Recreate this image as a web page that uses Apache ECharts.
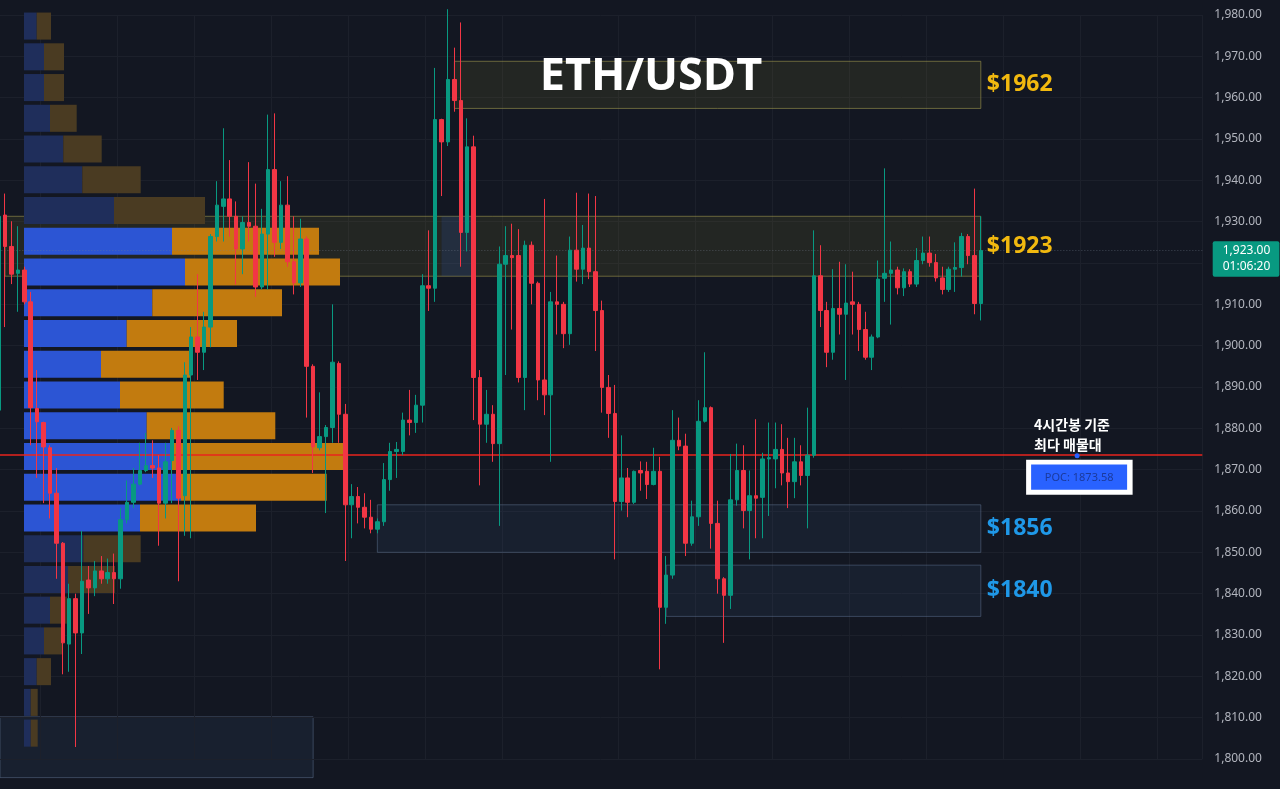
<!DOCTYPE html>
<html><head><meta charset="utf-8">
<script src="https://cdn.jsdelivr.net/npm/echarts@6/dist/echarts.min.js"></script>
<style>html,body{margin:0;padding:0;background:#131722;overflow:hidden}#c{width:1280px;height:789px}</style>
</head><body><div id="c"></div>
<script>
// ---- candle data (4h ETH/USDT) ----
const opens = [1884.4,1931.6,1924.0,1917.5,1918.3,1910.6,1884.8,1881.4,1875.3,1864.3,1852.2,1827.8,1838.8,1830.5,1843.3,1841.4,1845.5,1843.6,1845.1,1843.6,1857.9,1862.1,1866.5,1869.8,1871.0,1870.4,1861.9,1872.2,1879.5,1863.7,1892.9,1902.1,1898.4,1904.5,1926.4,1933.7,1935.5,1931.3,1923.4,1929.8,1928.9,1914.2,1927.0,1942.6,1925.0,1934.0,1920.3,1915.2,1925.8,1895.0,1875.3,1878.0,1880.2,1895.7,1883.4,1861.5,1863.5,1860.9,1858.5,1855.6,1857.4,1867.6,1874.4,1874.4,1882.0,1881.4,1885.6,1914.5,1913.9,1954.7,1949.3,1964.4,1959.3,1927.4,1948.1,1892.3,1881.0,1883.4,1876.3,1919.7,1921.8,1921.8,1892.3,1924.3,1915.1,1891.7,1888.1,1910.6,1910.0,1902.9,1923.1,1918.5,1923.6,1917.9,1908.5,1889.9,1883.6,1862.3,1868.0,1862.1,1869.8,1869.6,1866.4,1869.6,1836.7,1844.5,1877.1,1875.7,1852.2,1858.6,1881.7,1885.0,1857.0,1843.6,1839.6,1862.7,1869.8,1860.1,1863.7,1863.3,1872.6,1872.6,1874.9,1869.2,1867.1,1871.9,1868.6,1873.5,1916.9,1908.5,1898.4,1909.0,1907.6,1910.6,1910.0,1903.9,1897.2,1902.1,1916.3,1917.5,1918.3,1914.0,1917.9,1914.9,1920.6,1922.4,1920.1,1916.4,1913.6,1918.5,1918.9,1926.4,1921.8,1910.2];
const closes = [1931.3,1924.0,1917.3,1918.3,1910.6,1885.0,1881.6,1875.5,1864.3,1852.2,1828.1,1838.8,1830.5,1843.0,1841.4,1845.5,1843.6,1845.1,1843.6,1857.9,1862.1,1866.5,1869.8,1871.0,1870.4,1861.9,1871.9,1879.5,1863.1,1892.9,1902.1,1898.4,1904.5,1926.4,1934.0,1935.5,1931.3,1923.4,1929.8,1928.9,1914.2,1927.0,1942.6,1925.0,1934.0,1920.3,1915.2,1925.8,1895.0,1875.5,1878.0,1880.2,1896.0,1883.4,1861.5,1863.5,1860.9,1858.5,1855.6,1857.4,1867.6,1874.4,1874.9,1882.0,1881.4,1885.6,1914.5,1913.9,1954.7,1949.3,1964.4,1959.3,1927.4,1948.1,1892.3,1881.0,1883.4,1876.3,1919.7,1921.8,1921.3,1892.3,1924.3,1915.1,1891.7,1888.1,1910.6,1910.0,1902.9,1923.1,1918.5,1923.6,1917.9,1908.5,1889.9,1883.6,1862.3,1868.0,1862.1,1869.6,1869.2,1866.4,1869.6,1836.7,1844.5,1877.1,1875.7,1852.2,1858.6,1881.7,1885.0,1857.0,1843.6,1839.6,1862.7,1869.8,1860.1,1863.7,1863.1,1872.6,1872.9,1874.9,1869.2,1867.1,1871.9,1868.6,1873.5,1916.9,1908.5,1898.4,1909.0,1907.6,1910.3,1910.0,1903.9,1897.2,1902.1,1916.1,1917.5,1918.3,1914.0,1917.9,1914.9,1920.6,1922.4,1920.1,1916.4,1913.6,1918.5,1918.9,1926.4,1921.8,1910.2,1923.0];
const lows = [1882.0,1904.5,1914.9,1908.2,1910.0,1875.9,1868.0,1861.9,1858.2,1843.6,1820.5,1821.1,1802.9,1825.4,1835.1,1839.4,1842.4,1842.4,1837.5,1841.2,1857.0,1860.7,1866.2,1869.4,1868.0,1851.6,1858.2,1861.9,1843.0,1854.0,1853.4,1891.7,1894.1,1899.6,1925.2,1925.2,1926.4,1914.8,1917.3,1925.2,1911.8,1913.6,1913.6,1921.5,1923.4,1919.1,1912.4,1914.2,1882.6,1869.2,1874.7,1859.5,1876.5,1876.5,1847.9,1853.4,1857.0,1855.8,1854.6,1854.6,1856.4,1864.9,1868.0,1873.5,1878.3,1878.9,1881.4,1908.4,1910.6,1936.2,1948.3,1956.6,1919.1,1922.8,1882.0,1866.2,1876.5,1871.9,1856.4,1892.9,1903.9,1891.1,1884.4,1910.0,1886.8,1883.2,1871.9,1902.7,1899.4,1900.2,1915.5,1914.9,1916.1,1898.7,1883.8,1877.7,1848.3,1860.1,1858.5,1861.7,1864.9,1862.9,1866.2,1821.7,1832.7,1843.6,1874.7,1849.1,1851.6,1856.4,1881.4,1850.9,1840.0,1828.1,1836.3,1861.3,1855.8,1848.3,1853.4,1853.4,1858.8,1865.5,1866.2,1860.7,1863.1,1866.2,1855.8,1872.9,1904.5,1894.8,1896.6,1902.7,1891.7,1902.7,1898.7,1896.6,1894.1,1901.8,1910.6,1905.1,1912.4,1912.0,1914.2,1914.2,1919.7,1919.1,1915.5,1912.4,1913.0,1913.0,1916.7,1919.7,1907.6,1906.1];
const highs = [1933.0,1936.8,1930.1,1928.9,1919.1,1913.0,1894.1,1881.6,1875.9,1870.4,1852.5,1842.4,1840.0,1855.2,1846.7,1847.9,1849.1,1848.5,1849.7,1860.7,1867.4,1870.4,1876.5,1878.9,1877.1,1873.5,1876.5,1880.1,1880.5,1896.0,1904.5,1917.3,1908.2,1927.0,1939.8,1952.6,1944.9,1934.9,1931.3,1944.4,1939.2,1933.1,1955.9,1956.2,1939.8,1941.0,1931.3,1930.7,1926.4,1895.5,1888.7,1880.8,1910.0,1896.2,1885.9,1866.5,1865.8,1864.3,1862.7,1858.2,1871.6,1876.5,1876.7,1883.8,1889.3,1888.1,1917.3,1927.9,1967.2,1954.9,1981.4,1972.1,1978.2,1955.0,1950.8,1894.1,1889.3,1885.6,1924.0,1928.9,1929.5,1928.2,1925.4,1925.2,1915.5,1935.5,1913.0,1921.8,1910.6,1926.4,1937.0,1929.2,1936.8,1936.2,1910.9,1892.9,1890.5,1878.3,1870.4,1869.8,1872.0,1871.9,1875.3,1873.1,1849.1,1884.4,1882.6,1878.7,1862.5,1886.8,1898.4,1885.3,1862.5,1844.0,1873.8,1876.3,1875.9,1869.8,1882.2,1874.1,1881.4,1881.4,1881.0,1877.7,1877.7,1875.9,1885.0,1927.9,1924.3,1910.6,1918.5,1920.3,1919.7,1917.9,1910.6,1908.2,1902.7,1920.6,1942.9,1925.2,1919.1,1918.7,1918.5,1923.6,1926.4,1926.4,1922.2,1919.1,1919.1,1925.0,1927.3,1927.0,1938.0,1931.3];
const slotCount = 188; // candle slots incl. empty space on the right
const yTicks = {min: 1800, max: 1980, step: 10};

// ---- volume profile (top row = highest price), arbitrary units ----
const profileBuy  = [12.7,20,20,26,39.3,58.3,90,148,161,128.3,102.7,77,96,122.7,148,157,116,59.3,44,26,20,12.7,6.7,6.7];
const profileSell = [14.3,20,20,26.7,38.4,58.4,91,147,155,129.7,110.3,89,103.7,128.6,172,145.7,116,57.4,47,16.7,19,14.3,7,7];
const valueAreaRows = [7,8,9,10,11,12,13,14,15,16];

// ---- zones / levels ----
const resistanceZones = [ {from: 71, to: 153, lo: 1957.4, hi: 1968.8, label: '$1962'},
                          {from: 1,  to: 153, lo: 1916.8, hi: 1931.3, label: '$1923'} ];
const supportZones    = [ {from: 59, to: 153, lo: 1850.0, hi: 1861.5, label: '$1856'},
                          {from: 104, to: 153, lo: 1834.5, hi: 1846.9, label: '$1840'} ];
const lowerZone = {from: 0, to: 49, lo: 1795.5, hi: 1810.2};
const overlayZone = {from: 68.5, to: 74.3, lo: 1916.8, hi: 1931.3};
const pocValue = 1873.58;
const lastPrice = 1923.00;
const countdown = '01:06:20';
const vGridIdx = [7,19,31,43,55,67,79,97,109,121,133,145,157,169,181];

const categories = [];
for (let i = 0; i < slotCount; i++) categories.push('c' + i);
const candleData = opens.map((o, i) => [o, closes[i], lows[i], highs[i]]);

const UP = '#089981', DOWN = '#f23645';
const fmt = v => v.toLocaleString('en-US', {minimumFractionDigits: 2, maximumFractionDigits: 2});

const chart = echarts.init(document.getElementById('c'), null, {renderer: 'canvas'});

const areaData = [];
resistanceZones.forEach(z => areaData.push([
  {xAxis: z.from, yAxis: z.hi, itemStyle: {color: 'rgba(125,120,45,0.16)', borderColor: 'rgba(170,160,80,0.55)', borderWidth: 1}},
  {xAxis: z.to, yAxis: z.lo}]));
supportZones.forEach(z => areaData.push([
  {xAxis: z.from, yAxis: z.hi, itemStyle: {color: 'rgba(55,80,120,0.16)', borderColor: 'rgba(95,115,145,0.5)', borderWidth: 1}},
  {xAxis: z.to, yAxis: z.lo}]));
areaData.push([{xAxis: overlayZone.from, yAxis: overlayZone.hi, itemStyle: {color: 'rgba(41,98,255,0.13)', borderWidth: 0}},
               {xAxis: overlayZone.to, yAxis: overlayZone.lo}]);

const vaSet = new Set(valueAreaRows);
const buyData = profileBuy.map((v, i) => ({value: v, itemStyle: {color: vaSet.has(i) ? '#2c55d4' : '#1f2e5b'}}));
const sellData = profileSell.map((v, i) => ({value: v, itemStyle: {color: vaSet.has(i) ? '#c27b0f' : '#4a3b22'}}));
const rows = profileBuy.map((_, i) => 'r' + i);

chart.setOption({
  backgroundColor: '#131722',
  animation: false,
  grid: [
    {left: -4.63, right: 77.7, top: 15, bottom: 30, containLabel: false, outerBoundsMode: 'none'},
    {left: 24, width: 400, top: 10.7, bottom: 40.5, containLabel: false, outerBoundsMode: 'none'}
  ],
  xAxis: [
    {type: 'category', gridIndex: 0, data: categories, boundaryGap: true,
     axisLine: {show: false}, axisTick: {show: false}, axisLabel: {show: false},
     splitLine: {show: true, interval: (idx) => vGridIdx.includes(idx), lineStyle: {color: '#1c202b', width: 1}}},
    {type: 'value', gridIndex: 1, min: 0, max: 400, show: false}
  ],
  yAxis: [
    {type: 'value', gridIndex: 0, position: 'right', min: yTicks.min, max: yTicks.max, interval: yTicks.step,
     axisLine: {show: false}, axisTick: {show: false},
     axisLabel: {color: '#b2b5be', fontSize: 12, fontFamily: 'Noto Sans', margin: 12, formatter: fmt},
     splitLine: {show: true, lineStyle: {color: '#1c202b', width: 1}}},
    {type: 'category', gridIndex: 1, data: rows, inverse: true, show: false}
  ],
  series: [
    {type: 'line', name: 'zones', xAxisIndex: 0, yAxisIndex: 0, data: [], z: 1, silent: true, clip: false,
     markArea: {silent: true, data: areaData}},
    {type: 'bar', name: 'buy', xAxisIndex: 1, yAxisIndex: 1, stack: 'vp', data: buyData, barCategoryGap: '12%', z: 2, silent: true},
    {type: 'bar', name: 'sell', xAxisIndex: 1, yAxisIndex: 1, stack: 'vp', data: sellData, barCategoryGap: '12%', z: 2, silent: true},
    {type: 'candlestick', name: 'ETH/USDT', xAxisIndex: 0, yAxisIndex: 0, data: candleData, barWidth: 4, clip: false, z: 5,
     itemStyle: {color: UP, color0: DOWN, borderColor: UP, borderColor0: DOWN, borderWidth: 1},
     markLine: {silent: true, symbol: ['none', 'none'], label: {show: false},
       data: [
         {yAxis: lastPrice, lineStyle: {color: 'rgba(120,128,145,0.45)', type: [1, 2], width: 1}},
         {yAxis: pocValue, lineStyle: {color: '#e8241e', type: 'solid', width: 1.5}}
       ]}}
  ]
});

// ---- annotations positioned from data values ----
const px = (idx, val) => chart.convertToPixel({xAxisIndex: 0, yAxisIndex: 0}, [idx, val]);
const gridRight = px(slotCount - 0.5, lastPrice)[0] + 3.2;
const g = [];
// lower zone extends below the axis range, so draw it as a graphic behind the series
const lz0 = px(lowerZone.from, lowerZone.hi), lz1 = px(lowerZone.to, lowerZone.lo);
g.push({type: 'rect', z: -10, silent: true, shape: {x: Math.max(lz0[0], 0), y: lz0[1], width: lz1[0] - Math.max(lz0[0], 0), height: lz1[1] - lz0[1]},
  style: {fill: 'rgba(55,80,120,0.16)', stroke: 'rgba(95,115,145,0.5)', lineWidth: 1}});
g.push({type: 'text', z: 50, style: {text: 'ETH/USDT', x: 651, y: 77, align: 'center', verticalAlign: 'middle',
  font: 'bold 45px "Open Sans", "Noto Sans", sans-serif', fill: '#ffffff'}});
resistanceZones.concat(supportZones).forEach(z => {
  const p = px(z.to, (z.hi + z.lo) / 2);
  const gold = resistanceZones.includes(z);
  g.push({type: 'text', z: 50, style: {text: z.label, x: p[0] + 6, y: p[1], align: 'left', verticalAlign: 'middle',
    font: 'bold 23px "Noto Sans", "Open Sans", sans-serif', fill: gold ? '#f2b90f' : '#1f98e8'}});
});
// POC annotation
const pp = px(168, pocValue);
g.push({type: 'text', z: 50, style: {text: '4시간봉 기준\n최다 매물대', x: pp[0] - 43, y: pp[1] - 40, align: 'left', verticalAlign: 'top',
  font: 'bold 14px "Noto Sans CJK KR", sans-serif', lineHeight: 20, fill: '#ffffff'}});
g.push({type: 'rect', z: 50, shape: {x: pp[0] - 51, y: pp[1] + 5, width: 106.5, height: 35}, style: {fill: '#ffffff'}});
g.push({type: 'rect', z: 51, shape: {x: pp[0] - 46, y: pp[1] + 9.7, width: 96, height: 25.3}, style: {fill: '#2962ff'}});
g.push({type: 'text', z: 52, style: {text: 'POC: ' + pocValue.toFixed(2), x: pp[0] + 2, y: pp[1] + 22.5, align: 'center', verticalAlign: 'middle',
  font: '11px "Noto Sans", sans-serif', fill: '#1b3a9c'}});
g.push({type: 'circle', z: 52, shape: {cx: pp[0], cy: pp[1] + 1, r: 2.5}, style: {fill: '#2962ff'}});
// last price tag
const lp = px(153, lastPrice);
g.push({type: 'rect', z: 60, shape: {x: gridRight + 4, y: lp[1] - 9.3, width: 66.7, height: 35.4, r: 2}, style: {fill: '#089981'}});
g.push({type: 'text', z: 61, style: {text: fmt(lastPrice), x: gridRight + 14, y: lp[1], align: 'left', verticalAlign: 'middle',
  font: '12px "Noto Sans", sans-serif', fill: '#ffffff'}});
g.push({type: 'text', z: 61, style: {text: countdown, x: gridRight + 14, y: lp[1] + 16, align: 'left', verticalAlign: 'middle',
  font: '12px "Noto Sans", sans-serif', fill: '#ffffff'}});
chart.setOption({graphic: g});
</script>
</body></html>
